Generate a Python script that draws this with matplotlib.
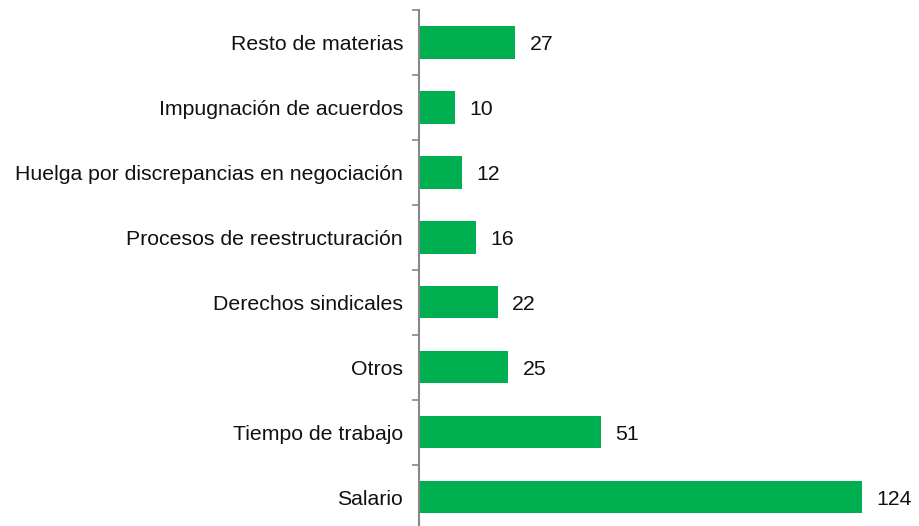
import matplotlib.pyplot as plt

# categories, bottom to top
cats = ['Salario', 'Tiempo de trabajo', 'Otros', 'Derechos sindicales',
        'Procesos de reestructuración', 'Huelga por discrepancias en negociación',
        'Impugnación de acuerdos', 'Resto de materias']
vals = [124, 51, 25, 22, 16, 12, 10, 27]

green = '#00B050'
plt.rcParams['font.family'] = ['Liberation Sans', 'DejaVu Sans']

fig = plt.figure(figsize=(9.19, 5.26), dpi=100)
ax = fig.add_axes([419/919, -3.5/526, 500/919, 519.5/526])

pos = list(range(len(cats)))
ax.barh(pos, vals, height=0.5, color=green)
ax.set_ylim(-0.5, len(cats) - 0.5)
ax.set_xlim(0, 140)

for p, v in zip(pos, vals):
    ax.text(v + 4.0, p, str(v), va='center_baseline', ha='left', fontsize=15.3, color='#111111')

# category labels, tick marks at category boundaries
ax.set_yticks(pos)
ax.set_yticklabels(cats, fontsize=15.3, color='#111111')
ax.tick_params(axis='y', which='major', length=0, pad=11.5)
ax.set_yticks([p - 0.5 for p in pos] + [len(cats) - 0.5], minor=True)
ax.tick_params(axis='y', which='minor', length=5, width=1.2, color='#888888')

ax.set_xticks([])
for s in ['top', 'right', 'bottom']:
    ax.spines[s].set_visible(False)
ax.spines['left'].set_color('#888888')
ax.spines['left'].set_linewidth(1.5)

fig.savefig('out.png', dpi=100)
